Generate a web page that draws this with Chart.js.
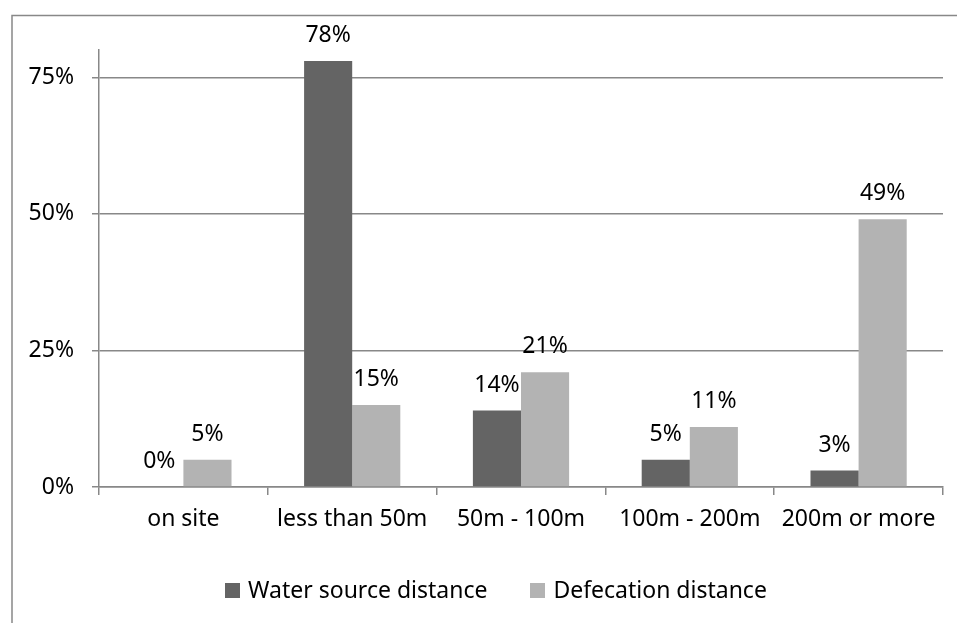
<!DOCTYPE html>
<html>
<head>
<meta charset="utf-8">
<script src="https://cdn.jsdelivr.net/npm/chart.js@4/dist/chart.umd.min.js"></script>
<style>
  html, body { margin: 0; padding: 0; background: #ffffff; }
  #wrap { width: 957px; height: 623px; }
</style>
</head>
<body>
<div id="wrap"><canvas id="c" width="957" height="623"></canvas></div>
<script>
// Share of households by distance (percent)
const categories = ['on site', 'less than 50m', '50m - 100m', '100m - 200m', '200m or more'];
const seriesNames = ['Water source distance', 'Defecation distance'];
const waterSourceDistance = [0, 78, 14, 5, 3];
const defecationDistance = [5, 15, 21, 11, 49];
const yTicks = [0, 25, 50, 75];
const yMax = 80;

const FONT = '"Noto Sans", "Open Sans", sans-serif';
const FONT_SIZE = 23;
const TEXT = '#000000';
const LINE = '#888888';
const COLORS = ['#646464', '#b3b3b3'];

// Outer frame around the chart
const framePlugin = {
  id: 'frame',
  beforeDraw(chart) {
    const ctx = chart.ctx;
    ctx.save();
    ctx.fillStyle = '#ffffff';
    ctx.fillRect(0, 0, chart.width, chart.height);
    ctx.strokeStyle = '#888888';
    ctx.lineWidth = 1.5;
    ctx.strokeRect(12, 15.5, 1000, 1000);
    ctx.restore();
  }
};

// Percentage labels above each bar
const valueLabels = {
  id: 'valueLabels',
  afterDatasetsDraw(chart) {
    const ctx = chart.ctx;
    ctx.save();
    ctx.font = `${FONT_SIZE}px ${FONT}`;
    ctx.fillStyle = TEXT;
    ctx.textAlign = 'center';
    ctx.textBaseline = 'alphabetic';
    chart.data.datasets.forEach((ds, di) => {
      chart.getDatasetMeta(di).data.forEach((bar, i) => {
        ctx.fillText(ds.data[i] + '%', bar.x, bar.y - 19);
      });
    });
    ctx.restore();
  }
};

// Legend row under the axis
const legendRow = {
  id: 'legendRow',
  afterDraw(chart) {
    const ctx = chart.ctx;
    const box = 15, gap = 8, itemGap = 43, baseline = 598, centerX = 496;
    ctx.save();
    ctx.font = `${FONT_SIZE}px ${FONT}`;
    const items = chart.data.datasets.map(ds => ({
      label: ds.label, color: ds.backgroundColor, w: ctx.measureText(ds.label).width
    }));
    const total = items.reduce((s, it) => s + box + gap + it.w, 0) + itemGap * (items.length - 1);
    let x = centerX - total / 2;
    items.forEach(it => {
      ctx.fillStyle = it.color;
      ctx.fillRect(Math.round(x), baseline - box, box, box);
      ctx.fillStyle = TEXT;
      ctx.textAlign = 'left';
      ctx.textBaseline = 'alphabetic';
      ctx.fillText(it.label, x + box + gap, baseline);
      x += box + gap + it.w + itemGap;
    });
    ctx.restore();
  }
};

new Chart(document.getElementById('c'), {
  type: 'bar',
  data: {
    labels: categories,
    datasets: [
      { label: seriesNames[0], data: waterSourceDistance, backgroundColor: COLORS[0] },
      { label: seriesNames[1], data: defecationDistance, backgroundColor: COLORS[1] }
    ]
  },
  options: {
    responsive: false,
    animation: false,
    devicePixelRatio: 1,
    layout: { padding: { top: 50, right: 14, left: 0, bottom: 0 } },
    datasets: { bar: { categoryPercentage: 0.57, barPercentage: 1.0, borderWidth: 0 } },
    plugins: { legend: { display: false }, tooltip: { enabled: false } },
    scales: {
      x: {
        grid: { drawOnChartArea: false, drawTicks: true, tickLength: 8, color: LINE, lineWidth: 1.5, offset: true },
        border: { display: true, color: LINE, width: 1.5 },
        ticks: { color: TEXT, font: { family: FONT, size: FONT_SIZE }, padding: 11, maxRotation: 0, autoSkip: false },
        afterFit(scale) { scale.height = 136; }
      },
      y: {
        min: 0,
        max: yMax,
        afterBuildTicks(scale) { scale.ticks = yTicks.map(v => ({ value: v })); },
        grid: { color: LINE, lineWidth: 1.5, tickLength: 7, drawTicks: true },
        border: { display: true, color: LINE, width: 1.5 },
        ticks: {
          color: TEXT, font: { family: FONT, size: FONT_SIZE }, padding: 18,
          callback: v => v + '%'
        },
        afterFit(scale) { scale.width = 99; }
      }
    }
  },
  plugins: [framePlugin, valueLabels, legendRow]
});
</script>
</body>
</html>
